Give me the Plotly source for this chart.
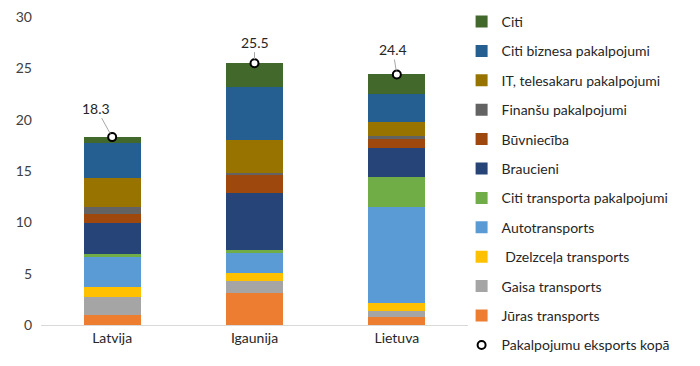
import plotly.graph_objects as go

categories = ["Latvija", "Igaunija", "Lietuva"]

# series (bottom to top in stack)
juras = [0.97, 3.12, 0.78]
gaisa = [1.78, 1.16, 0.58]
dzelzcela = [0.97, 0.78, 0.81]
auto = [2.89, 1.92, 9.29]
citi_transp = [0.29, 0.35, 2.95]
braucieni = [2.99, 5.49, 2.82]
buvnieciba = [0.97, 1.75, 0.85]
finansu = [0.62, 0.23, 0.29]
it_tele = [2.85, 3.18, 1.40]
citi_biz = [3.35, 5.16, 2.75]
citi = [0.62, 2.36, 1.88]
totals = [18.3, 25.5, 24.4]

series = [
    ("Jūras transports", juras, "#ED7D31"),
    ("Gaisa transports", gaisa, "#A5A5A5"),
    (" Dzelzceļa transports", dzelzcela, "#FFC000"),
    ("Autotransports", auto, "#5B9BD5"),
    ("Citi transporta pakalpojumi", citi_transp, "#70AD47"),
    ("Braucieni", braucieni, "#264478"),
    ("Būvniecība", buvnieciba, "#9E480E"),
    ("Finanšu pakalpojumi", finansu, "#636363"),
    ("IT, telesakaru pakalpojumi", it_tele, "#997300"),
    ("Citi biznesa pakalpojumi", citi_biz, "#255E91"),
    ("Citi", citi, "#43682B"),
]

FONT = "Lato"

fig = go.Figure()
n = len(series)
for i, (name, vals, col) in enumerate(series):
    fig.add_trace(go.Bar(
        x=categories, y=vals, name=name,
        marker=dict(color=col, line=dict(width=0)),
        legendgroup=name, legendrank=n - i,
    ))

fig.add_trace(go.Scatter(
    x=categories, y=totals, mode="markers", name="Pakalpojumu eksports kopā",
    marker=dict(symbol="circle", size=8, color="white", line=dict(color="black", width=2)),
    legendgroup="total", legendrank=n + 1,
))

offsets = [(-16, -29), (0, -21), (-4, -25)]
for c, t, (ax, ay) in zip(categories, totals, offsets):
    fig.add_annotation(
        x=c, y=t, text=f"{t:.1f}", showarrow=True, arrowhead=0, arrowwidth=1,
        arrowcolor="#A6A6A6", ax=ax, ay=ay, standoff=4,
        font=dict(family=FONT, size=14, color="#262626"),
    )

fig.update_layout(
    width=700, height=366,
    barmode="stack", bargap=0.6,
    paper_bgcolor="white", plot_bgcolor="white",
    margin=dict(l=41, r=232, t=17, b=41, autoexpand=False),
    font=dict(family=FONT, size=14, color="#262626"),
    showlegend=True,
    legend=dict(
        x=0.985, xanchor="left", y=1.036, yanchor="top",
        traceorder="grouped", tracegroupgap=8.2, maxheight=400,
        font=dict(family=FONT, size=14, color="#262626"),
        bgcolor="rgba(0,0,0,0)",
    ),
    xaxis=dict(
        showline=True, linecolor="#D9D9D9", linewidth=1,
        ticks="", showgrid=False,
        tickfont=dict(family=FONT, size=14, color="#262626"),
    ),
    yaxis=dict(
        range=[0, 30], dtick=5, showgrid=False, zeroline=False,
        showline=False, ticks="", ticklabelstandoff=8,
        tickfont=dict(family=FONT, size=14, color="#404040"),
    ),
)

fig.write_html("out.html", config={"displayModeBar": False},
               post_script="document.body.style.margin='0';")
